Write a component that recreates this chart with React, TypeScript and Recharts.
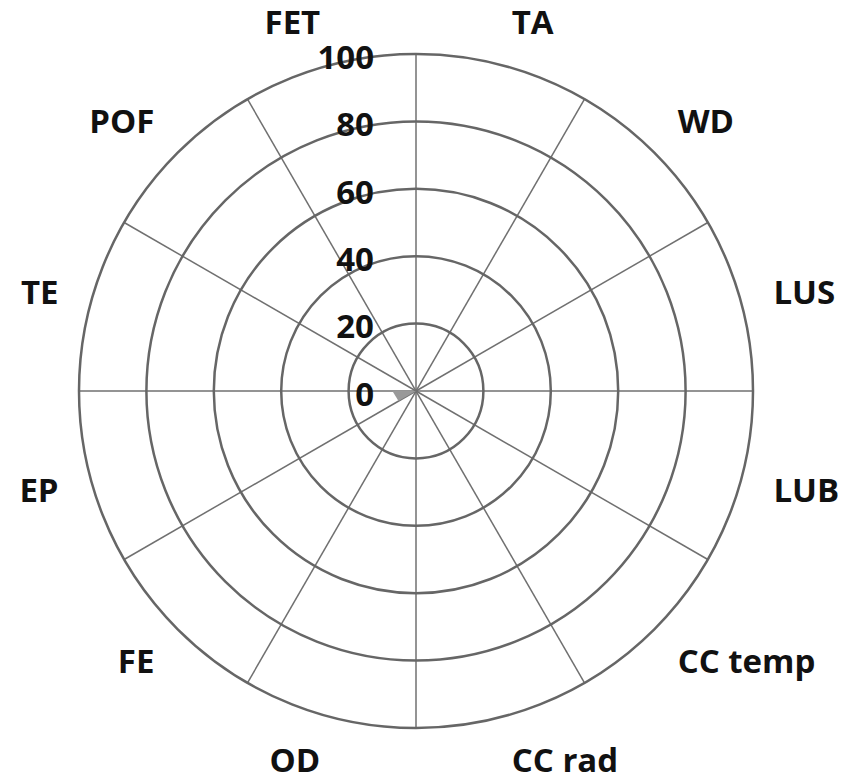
import React from 'react';
import { RadarChart, Radar, PolarGrid, PolarAngleAxis, PolarRadiusAxis } from 'recharts';

// Categories (clockwise from the top spoke); each label sits in the sector after its spoke
const categories = ['TA', 'WD', 'LUS', 'LUB', 'CC temp', 'CC rad', 'OD', 'FE', 'EP', 'TE', 'POF', 'FET'];
const seriesValues = [0, 0, 0, 0, 0, 0, 0, 0, 6, 7, 0, 0];
const radiusTicks = [0, 20, 40, 60, 80, 100];

const data = categories.map((c, i) => ({ cat: c, value: seriesValues[i] }));

const W = 830;
const H = 772;
const CX = 408;
const CY = 383;
const R = 337;
const FONT = '"Open Sans", "DejaVu Sans", sans-serif';
const FS = 33;

const AngleTick = (props: any) => {
  const { x, y, payload } = props;
  const cx = typeof props.cx === 'number' ? props.cx : CX;
  const cy = typeof props.cy === 'number' ? props.cy : CY;
  const a = Math.atan2(-(y - cy), x - cx) - (15 * Math.PI) / 180;
  const cos = Math.cos(a);
  const sin = Math.sin(a);
  const tx = cx + (R + 33) * cos;
  const tyCenter = cy - (R + 45) * sin;
  return (
    <text
      x={tx}
      y={tyCenter + FS * 0.36}
      textAnchor={cos >= 0 ? 'start' : 'end'}
      fontFamily={FONT}
      fontWeight={700}
      fontSize={FS}
      fill="#111"
    >
      {payload.value}
    </text>
  );
};

const RadiusTick = (props: any) => {
  const { x, y, payload } = props;
  return (
    <text
      x={x - 42}
      y={y + 3 + FS * 0.36}
      textAnchor="end"
      fontFamily={FONT}
      fontWeight={700}
      fontSize={FS}
      fill="#111"
    >
      {payload.value}
    </text>
  );
};

export default function App() {
  return (
    <div style={{ width: W, height: H, background: '#fff' }}>
      <style>{'.recharts-surface{overflow:visible;} .recharts-wrapper{overflow:visible;}'}</style>
      <RadarChart
        width={W}
        height={H}
        data={data}
        cx={CX}
        cy={CY}
        outerRadius={R}
        startAngle={90}
        endAngle={-270}
        margin={{ top: 0, right: 0, bottom: 0, left: 0 }}
      >
        <PolarGrid gridType="circle" polarRadius={[]} stroke="#707070" strokeWidth={1.5} />
        <PolarGrid gridType="circle" radialLines={false} stroke="#666666" strokeWidth={2.5} />
        <PolarAngleAxis dataKey="cat" tick={AngleTick} axisLine={false} tickLine={false} />
        <PolarRadiusAxis
          angle={90}
          domain={[0, 100]}
          ticks={radiusTicks as any}
          tickCount={radiusTicks.length}
          axisLine={false}
          tickLine={false}
          tick={RadiusTick}
        />
        <Radar
          dataKey="value"
          stroke="none"
          fill="#999999"
          fillOpacity={1}
          dot={false}
          isAnimationActive={false}
        />
      </RadarChart>
    </div>
  );
}
